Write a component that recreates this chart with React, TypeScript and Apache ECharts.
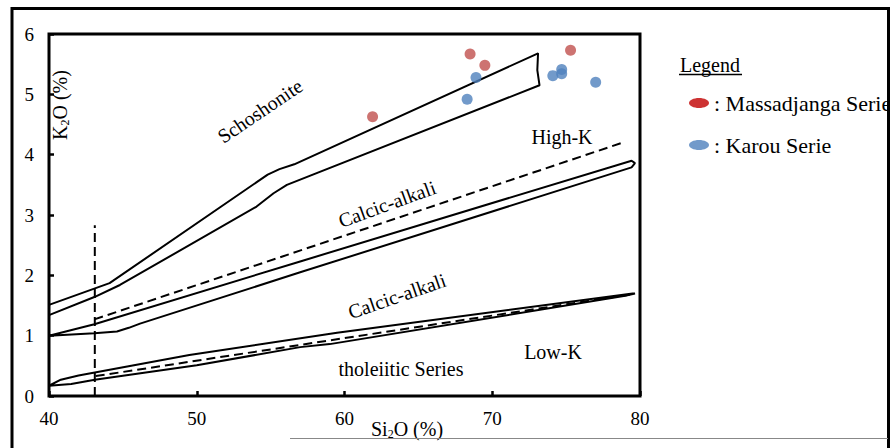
import React, { useEffect, useRef } from "react";
import * as echarts from "echarts";

const SERIF = "Liberation Serif";

// Axis ranges / ticks
const X_MIN = 40;
const X_MAX = 80;
const X_STEP = 10;
const Y_MIN = 0;
const Y_MAX = 6;
const Y_STEP = 1;

// Boundary lines of the SiO2 - K2O diagram  [SiO2, K2O]
const SHOSHONITE_BAND: number[][] = [
  [40, 1.51], [44.1, 1.87], [54.8, 3.67], [55.6, 3.76], [56.6, 3.84], [73.1, 5.68],
  [73.05, 5.4], [73.2, 5.15],
  [56.1, 3.5], [55.2, 3.36], [54.05, 3.14], [44.8, 1.84], [43.07, 1.64], [40, 1.34],
];
const CALC_ALKALI_BAND: number[][] = [
  [40, 1.0], [43.07, 1.19], [57, 2.23], [79.43, 3.9], [79.66, 3.86],
  [79.43, 3.79], [57, 2.05], [46.16, 1.2], [45.4, 1.13], [44.6, 1.07], [43.07, 1.04], [40, 1.0],
];
const LOW_K_BAND: number[][] = [
  [40, 0.17], [40.8, 0.27], [42, 0.34], [43.1, 0.39], [49.5, 0.68], [59.5, 1.05], [79.5, 1.7],
  [79.66, 1.7],
  [79, 1.66], [59, 0.86], [57, 0.81], [50, 0.51], [43.1, 0.27], [41.5, 0.2], [40, 0.17],
];
const HIGH_K_DASHED: number[][] = [[43.07, 1.27], [78.83, 4.2]];
const LOW_K_DASHED: number[][] = [[43.16, 0.33], [79.3, 1.68]];
const VERTICAL_DASHED: number[][] = [[43.1, 0], [43.1, 2.83]];

// Samples
const MASSADJANGA: number[][] = [[61.9, 4.63], [68.5, 5.67], [69.5, 5.48], [75.3, 5.73]];
const KAROU: number[][] = [[68.3, 4.92], [68.9, 5.28], [74.1, 5.31], [74.7, 5.41], [74.7, 5.34], [77.0, 5.2]];

const SERIES_NAMES = ["Massadjanga Serie", "Karou Serie"];
const POINT_COLORS = ["#c0504d", "#4f81bd"];
const LEGEND_COLORS = ["#c00000", "#4f81bd"];

const ELLIPSE_ICON =
  "path://M0,5 C0,2.24 4.48,0 10,0 C15.52,0 20,2.24 20,5 C20,7.76 15.52,10 10,10 C4.48,10 0,7.76 0,5 Z";

function boundary(data: number[][], dashed: boolean) {
  return {
    type: "line",
    data,
    symbol: "none",
    showSymbol: false,
    silent: true,
    z: 2,
    lineStyle: { color: "#000", width: 2, type: dashed ? [9, 5] : "solid" },
  };
}

const axisRich = {
  a: { fontFamily: SERIF, fontSize: 20, color: "#000", lineHeight: 24 },
  s: { fontFamily: SERIF, fontSize: 12, color: "#000", lineHeight: 12, padding: [10, 0, 0, 0] },
};

function label(text: string, x: number, y: number, deg: number) {
  return {
    type: "text",
    x,
    y,
    rotation: (deg * Math.PI) / 180,
    style: {
      text,
      fontFamily: SERIF,
      fontSize: 20,
      fill: "#000",
      align: "center",
      verticalAlign: "middle",
    },
  };
}

export default function App() {
  const ref = useRef<HTMLDivElement>(null);
  useEffect(() => {
    if (!ref.current) return;
    const chart = echarts.init(ref.current, null, { renderer: "svg" });
    chart.setOption({
      animation: false,
      backgroundColor: "#fff",
      textStyle: { fontFamily: SERIF },
      grid: {
        left: 49,
        top: 34,
        right: 256,
        bottom: 52,
        show: true,
        borderColor: "#000",
        borderWidth: 3,
        backgroundColor: "transparent",
      },
      xAxis: {
        type: "value",
        min: X_MIN,
        max: X_MAX,
        interval: X_STEP,
        axisLine: { show: false },
        splitLine: { show: false },
        axisTick: { show: true, inside: true, length: 5, lineStyle: { color: "#000", width: 2.5 } },
        axisLabel: { fontFamily: SERIF, fontSize: 19, color: "#000", margin: 13 },
      },
      yAxis: {
        type: "value",
        min: Y_MIN,
        max: Y_MAX,
        interval: Y_STEP,
        axisLine: { show: false },
        splitLine: { show: false },
        axisTick: { show: true, inside: true, length: 5, lineStyle: { color: "#000", width: 2.5 } },
        axisLabel: { fontFamily: SERIF, fontSize: 19, color: "#000", margin: 15 },
      },
      legend: {
        orient: "vertical",
        left: 684,
        top: 87,
        itemWidth: 20,
        itemHeight: 13,
        itemGap: 20,
        selectedMode: false,
        formatter: ": {name}",
        textStyle: { fontFamily: SERIF, fontSize: 22, color: "#000" },
        data: SERIES_NAMES.map((n, i) => ({ name: n, icon: ELLIPSE_ICON, itemStyle: { color: LEGEND_COLORS[i] } })),
      },
      series: [
        boundary(SHOSHONITE_BAND, false),
        boundary(CALC_ALKALI_BAND, false),
        boundary(LOW_K_BAND, false),
        boundary(HIGH_K_DASHED, true),
        boundary(LOW_K_DASHED, true),
        boundary(VERTICAL_DASHED, true),
        {
          type: "scatter",
          name: SERIES_NAMES[0],
          data: MASSADJANGA,
          symbolSize: 11,
          z: 5,
          itemStyle: { color: POINT_COLORS[0] },
        },
        {
          type: "scatter",
          name: SERIES_NAMES[1],
          data: KAROU,
          symbolSize: 11,
          z: 5,
          itemStyle: { color: POINT_COLORS[1] },
        },
      ],
      graphic: [
        label("Schoshonite", 260, 111, 34),
        label("Calcic-alkali", 387, 204, 20),
        label("Calcic-alkali", 397, 296, 19),
        label("High-K", 562, 137, 0),
        label("Low-K", 553, 352, 0),
        label("tholeiitic Series", 401, 369, 0),
        {
          type: "text",
          x: 60,
          y: 105,
          rotation: Math.PI / 2,
          style: { text: "{a|K}{s|2}{a|O (%)}", rich: axisRich, align: "center", verticalAlign: "middle" },
        },
        {
          type: "text",
          x: 407,
          y: 429,
          style: { text: "{a|Si}{s|2}{a|O (%)}", rich: axisRich, align: "center", verticalAlign: "middle" },
        },
        {
          type: "text",
          x: 710,
          y: 65,
          style: { text: "Legend", fontFamily: SERIF, fontSize: 20, fill: "#000", align: "center", verticalAlign: "middle" },
        },
        { type: "line", shape: { x1: 679, y1: 74.5, x2: 742, y2: 74.5 }, style: { stroke: "#000", lineWidth: 1.5 } },
        { type: "rect", z: 20, shape: { x: 890, y: 0, width: 6, height: 448 }, style: { fill: "#fff" } },
        {
          type: "rect",
          z: 21,
          shape: { x: 12, y: 8.5, width: 876.5, height: 445 },
          style: { fill: "none", stroke: "#000", lineWidth: 3 },
        },
        { type: "line", z: 21, shape: { x1: 290, y1: 438.5, x2: 888, y2: 438.5 }, style: { stroke: "#888", lineWidth: 1 } },
      ],
    });
    return () => chart.dispose();
  }, []);
  return <div ref={ref} style={{ position: "fixed", left: 0, top: 0, width: 896, height: 448 }} />;
}
